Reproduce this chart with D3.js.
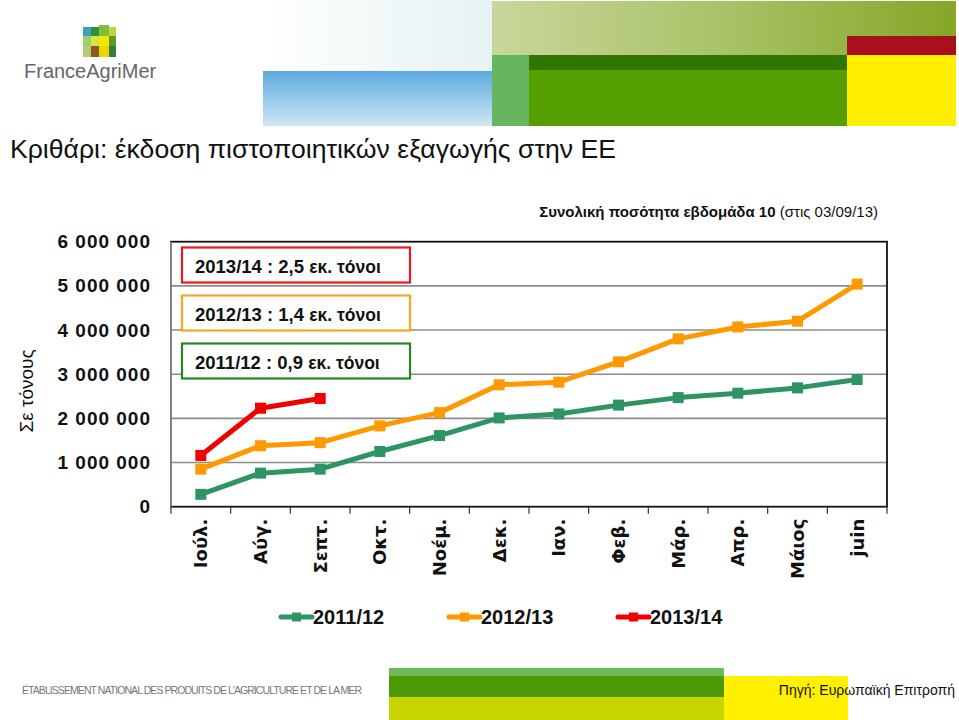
<!DOCTYPE html>
<html>
<head>
<meta charset="utf-8">
<script src="https://cdn.jsdelivr.net/npm/d3@7"></script>
<style>
  body { margin: 0; background: #fff; }
  svg { display: block; }
</style>
</head>
<body>
<script>
// dati
var months = ["Ιούλ.", "Αύγ.", "Σεπτ.", "Οκτ.", "Νοέμ.", "Δεκ.", "Ιαν.", "Φεβ.", "Μάρ.", "Απρ.", "Μάιος", "juin"];
var seasons = ["2011/12", "2012/13", "2013/14"];
var s2011 = [280000, 760000, 850000, 1250000, 1610000, 2010000, 2100000, 2300000, 2470000, 2570000, 2690000, 2880000];
var s2012 = [850000, 1380000, 1450000, 1830000, 2130000, 2760000, 2820000, 3280000, 3800000, 4070000, 4200000, 5040000];
var s2013 = [1160000, 2230000, 2450000];
var yTicks = [0, 1000000, 2000000, 3000000, 4000000, 5000000, 6000000];
var notes = ["2013/14 : 2,5", "2012/13 : 1,4", "2011/12 : 0,9"];

var colors = ["#2e9464", "#ff9900", "#f20000"];
var boxColors = ["#e41b23", "#f5a623", "#23862a"];

var W = 959, H = 720;
var plot = {left: 171, right: 887, top: 241.7, bottom: 506.7};

var svg = d3.select("body").append("svg")
    .attr("width", W)
    .attr("height", H);

var defs = svg.append("defs");
function grad(id, x2, y2, stops) {
    var g = defs.append("linearGradient").attr("id", id)
        .attr("x1", 0).attr("y1", 0).attr("x2", x2).attr("y2", y2);
    stops.forEach(function (s) {
        g.append("stop").attr("offset", s[0]).attr("stop-color", s[1]);
    });
}
grad("olive", 1, 0, [[0, "#c9d69c"], [0.5, "#a9c267"], [1, "#86a626"]]);
grad("sky", 0, 1, [[0, "#5da9e0"], [1, "#cfe7f5"]]);
grad("paleH", 1, 0, [[0, "#ffffff"], [1, "#e6f2f3"]]);

// ---- intestazione ----
var head = svg.append("g");
head.append("rect").attr("x", 263).attr("y", 0).attr("width", 229).attr("height", 71).attr("fill", "url(#paleH)");
head.append("rect").attr("x", 263).attr("y", 71).attr("width", 229).attr("height", 55).attr("fill", "url(#sky)");
head.append("rect").attr("x", 492).attr("y", 1).attr("width", 464).attr("height", 55).attr("fill", "url(#olive)");
head.append("rect").attr("x", 847).attr("y", 36).attr("width", 109).attr("height", 19).attr("fill", "#a8101e");
head.append("rect").attr("x", 492).attr("y", 55).attr("width", 355).attr("height", 71).attr("fill", "#559e00");
head.append("rect").attr("x", 492).attr("y", 55).attr("width", 355).attr("height", 15).attr("fill", "#2f7700");
head.append("rect").attr("x", 492).attr("y", 55).attr("width", 37).attr("height", 71).attr("fill", "#68b560");
head.append("rect").attr("x", 847).attr("y", 55).attr("width", 109).attr("height", 71).attr("fill", "#ffee00");

// logo
var logo = [
    [83, 27, 8, 9, "#3aa0c8"], [91, 27, 8, 9, "#2f8f3a"], [99, 25, 10, 11, "#7bbf3a"], [109, 27, 7, 9, "#c9d13a"],
    [83, 36, 8, 10, "#9ccf6a"], [91, 36, 8, 10, "#d8e04a"], [99, 36, 10, 10, "#f2e600"], [109, 36, 7, 10, "#5a9a2a"],
    [83, 46, 8, 11, "#b6c77a"], [91, 46, 8, 11, "#8a5a1e"], [99, 46, 10, 11, "#e8d800"], [109, 46, 7, 11, "#2f7f3f"]
];
logo.forEach(function (r) {
    head.append("rect").attr("x", r[0]).attr("y", r[1]).attr("width", r[2]).attr("height", r[3]).attr("fill", r[4]);
});
head.append("text")
    .attr("x", 24).attr("y", 78)
    .attr("font-family", "Liberation Sans Narrow, Liberation Sans, sans-serif")
    .attr("font-size", 20)
    .attr("fill", "#666")
    .text("FranceAgriMer");

// titolo
svg.append("text")
    .attr("x", 10).attr("y", 158)
    .attr("font-family", "Liberation Sans, Arial, sans-serif")
    .attr("font-size", 26.6)
    .attr("fill", "#111")
    .text("Κριθάρι: έκδοση πιστοποιητικών εξαγωγής στην ΕΕ");

var sub = svg.append("text")
    .attr("x", 878).attr("y", 217)
    .attr("text-anchor", "end")
    .attr("font-family", "Liberation Sans, Arial, sans-serif")
    .attr("font-size", 15)
    .attr("fill", "#111");
sub.append("tspan").attr("font-weight", "bold").text("Συνολική ποσότητα εβδομάδα 10");
sub.append("tspan").text(" (στις 03/09/13)");

// ---- scale ----
var x = d3.scaleBand().domain(months).range([plot.left, plot.right]);
var y = d3.scaleLinear().domain([0, 6000000]).range([plot.bottom, plot.top]);
var fmt = function (d) { return d3.format(",")(d).replace(/,/g, " "); };

// griglia
svg.append("g").selectAll("line").data(yTicks.slice(1, -1)).enter().append("line")
    .attr("x1", plot.left).attr("x2", plot.right)
    .attr("y1", function (d) { return y(d); }).attr("y2", function (d) { return y(d); })
    .attr("stroke", "#8c8c8c").attr("stroke-width", 1.6);

// asse y
var yAxis = svg.append("g")
    .attr("transform", "translate(" + plot.left + ",0)")
    .call(d3.axisLeft(y).tickValues(yTicks).tickSize(0).tickPadding(20).tickFormat(fmt));
yAxis.select(".domain").remove();
yAxis.selectAll("text")
    .attr("font-family", "Liberation Sans, Arial, sans-serif")
    .attr("font-size", 19)
    .attr("font-weight", "bold")
    .attr("letter-spacing", 1)
    .attr("fill", "#111");

svg.append("text")
    .attr("transform", "translate(33,391) rotate(-90)")
    .attr("text-anchor", "middle")
    .attr("font-family", "Liberation Sans, Arial, sans-serif")
    .attr("font-size", 19)
    .attr("fill", "#111")
    .text("Σε τόνους");

// cornice
svg.append("rect")
    .attr("x", plot.left).attr("y", plot.top)
    .attr("width", plot.right - plot.left).attr("height", plot.bottom - plot.top)
    .attr("fill", "none").attr("stroke", "#111").attr("stroke-width", 1.8);
svg.append("line")
    .attr("x1", plot.left).attr("x2", plot.left).attr("y1", plot.top).attr("y2", plot.bottom)
    .attr("stroke", "#8c8c8c").attr("stroke-width", 1.8);

// asse x
var xAxis = svg.append("g")
    .attr("transform", "translate(0," + plot.bottom + ")")
    .call(d3.axisBottom(x).tickSize(0).tickFormat(""));
xAxis.select(".domain").remove();
var bounds = months.map(function (m) { return x(m); }).concat([plot.right]);
xAxis.selectAll(".bt").data(bounds).enter().append("line")
    .attr("class", "bt")
    .attr("x1", function (d) { return d; }).attr("x2", function (d) { return d; })
    .attr("y1", 0).attr("y2", 7)
    .attr("stroke", "#333").attr("stroke-width", 1.2);
xAxis.selectAll(".lbl").data(months).enter().append("text")
    .attr("class", "lbl")
    .attr("transform", function (d) {
        return "translate(" + (x(d) + x.bandwidth() / 2 + 6.5) + ",12) rotate(-90)";
    })
    .attr("text-anchor", "end")
    .attr("font-family", "DejaVu Sans, Verdana, sans-serif")
    .attr("font-size", 18)
    .attr("font-weight", "bold")
    .attr("fill", "#111")
    .text(function (d) { return d; });

// riquadri di testo
notes.forEach(function (t, i) {
    var yy = [247.5, 295.5, 343.5][i];
    svg.append("rect")
        .attr("x", 182).attr("y", yy)
        .attr("width", 228).attr("height", 35)
        .attr("fill", "#fff").attr("stroke", boxColors[i]).attr("stroke-width", 2.2);
    var tx = svg.append("text")
        .attr("x", 195).attr("y", yy + 25.5)
        .attr("font-family", "Liberation Sans, Arial, sans-serif")
        .attr("font-size", 18.5)
        .attr("font-weight", "bold")
        .attr("fill", "#111");
    tx.append("tspan").text(t + " ");
    tx.append("tspan").attr("font-size", 17.5).text("εκ. τόνοι");
});

// linee
var line = d3.line()
    .x(function (d, i) { return x(months[i]) + x.bandwidth() / 2; })
    .y(function (d) { return y(d); });

[s2011, s2012, s2013].forEach(function (s, k) {
    var g = svg.append("g");
    g.append("path")
        .attr("d", line(s))
        .attr("fill", "none")
        .attr("stroke", colors[k])
        .attr("stroke-width", 5)
        .attr("stroke-linejoin", "round");
    g.selectAll("rect").data(s).enter().append("rect")
        .attr("x", function (d, i) { return x(months[i]) + x.bandwidth() / 2 - 5.5; })
        .attr("y", function (d) { return y(d) - 5.5; })
        .attr("width", 11).attr("height", 11)
        .attr("fill", colors[k]);
});

// legenda
var legX = [281, 449, 618];
seasons.forEach(function (s, k) {
    var g = svg.append("g").attr("transform", "translate(" + legX[k] + ",617)");
    g.append("line").attr("x1", 0).attr("x2", 31).attr("y1", 0).attr("y2", 0)
        .attr("stroke", colors[k]).attr("stroke-width", 5).attr("stroke-linecap", "round");
    g.append("rect").attr("x", 11).attr("y", -4.5).attr("width", 9).attr("height", 9).attr("fill", colors[k]);
    g.append("text").attr("x", 32).attr("y", 7)
        .attr("font-family", "Liberation Sans, Arial, sans-serif")
        .attr("font-size", 20)
        .attr("font-weight", "bold")
        .attr("fill", "#111")
        .text(s);
});

// piè di pagina
svg.append("text")
    .attr("x", 22).attr("y", 694)
    .attr("font-family", "Liberation Sans Narrow, Liberation Sans, sans-serif")
    .attr("font-size", 10.5)
    .attr("fill", "#777")
    .attr("textLength", 340)
    .text("ÉTABLISSEMENT NATIONAL DES PRODUITS DE L'AGRICULTURE ET DE LA MER");
svg.append("rect").attr("x", 389).attr("y", 668).attr("width", 335).attr("height", 52).attr("fill", "#c8d400");
svg.append("rect").attr("x", 389).attr("y", 668).attr("width", 335).attr("height", 29).attr("fill", "#4e9a06");
svg.append("rect").attr("x", 389).attr("y", 668).attr("width", 335).attr("height", 8).attr("fill", "#6cba5c");
svg.append("rect").attr("x", 724).attr("y", 676).attr("width", 124).attr("height", 44).attr("fill", "#ffef00");
svg.append("text")
    .attr("x", 955).attr("y", 695)
    .attr("text-anchor", "end")
    .attr("font-family", "Liberation Sans Narrow, Liberation Sans, sans-serif")
    .attr("font-size", 14)
    .attr("fill", "#111")
    .text("Πηγή: Ευρωπαϊκή Επιτροπή");
</script>
</body>
</html>
